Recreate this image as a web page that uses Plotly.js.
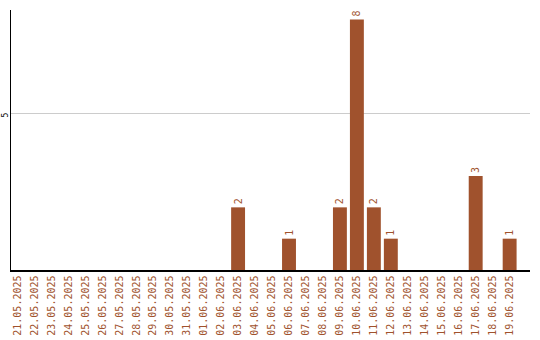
<!DOCTYPE html>
<html>
<head>
<meta charset="utf-8">
<script src="https://cdn.plot.ly/plotly-3.0.1.min.js"></script>
<style>html,body{margin:0;padding:0;background:#fff;}#chart{width:540px;height:340px;}</style>
</head>
<body>
<div id="chart"></div>
<script>
var dates = ["21.05.2025","22.05.2025","23.05.2025","24.05.2025","25.05.2025","26.05.2025","27.05.2025","28.05.2025","29.05.2025","30.05.2025","31.05.2025","01.06.2025","02.06.2025","03.06.2025","04.06.2025","05.06.2025","06.06.2025","07.06.2025","08.06.2025","09.06.2025","10.06.2025","11.06.2025","12.06.2025","13.06.2025","14.06.2025","15.06.2025","16.06.2025","17.06.2025","18.06.2025","19.06.2025"];
var counts = [0,0,0,0,0,0,0,0,0,0,0,0,0,2,0,0,1,0,0,2,8,2,1,0,0,0,0,3,0,1];
var labels = counts.map(function(v){ return v > 0 ? String(v) : ""; });
var yTicks = [5];

var trace = {
  type: "bar",
  x: dates,
  y: counts,
  text: labels,
  textposition: "outside",
  textangle: -90,
  cliponaxis: false,
  textfont: {family: "DejaVu Sans Mono", size: 10, color: "#a0522d"},
  marker: {color: "#a0522d"},
  hoverinfo: "none"
};

var layout = {
  width: 540, height: 340,
  margin: {l: 10.5, r: 9.5, t: 10, b: 70, pad: 0},
  paper_bgcolor: "#fff", plot_bgcolor: "#fff",
  showlegend: false,
  bargap: 0.18,
  xaxis: {
    type: "category",
    range: [-0.38, 30.2],
    tickangle: -90,
    tickfont: {family: "DejaVu Sans Mono", size: 10, color: "#a0522d"},
    showline: true, linecolor: "#000", linewidth: 1.5,
    showgrid: false, zeroline: false, ticks: "", ticklen: 0
  },
  yaxis: {
    range: [0, 8.3],
    tickvals: yTicks,
    ticktext: yTicks.map(String),
    tickangle: -90,
    ticklabelstandoff: -2,
    ticklabelshift: 3,
    tickfont: {family: "DejaVu Sans Mono", size: 8, color: "#000"},
    showline: true, linecolor: "#000", linewidth: 1.5,
    showgrid: true, gridcolor: "#cccccc", gridwidth: 1,
    zeroline: false, ticks: "", ticklen: 0
  }
};

Plotly.newPlot("chart", [trace], layout, {displayModeBar: false, staticPlot: true});
</script>
</body>
</html>
